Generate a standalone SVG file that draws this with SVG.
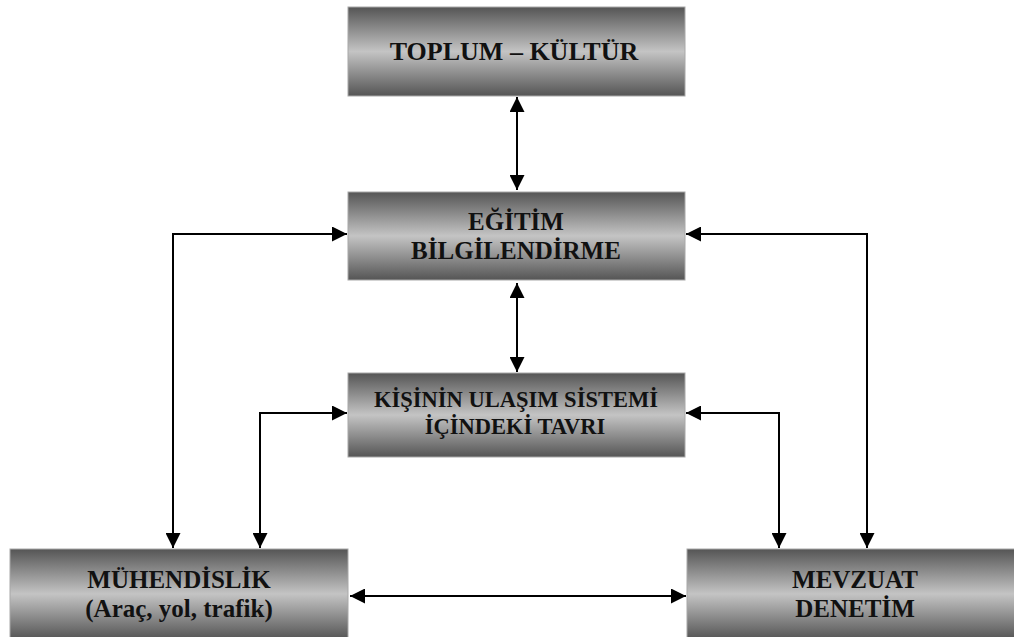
<svg xmlns="http://www.w3.org/2000/svg" width="1014" height="637" viewBox="0 0 1014 637">
<style>
.box{fill:url(#g);stroke:#a8a8a8;stroke-width:1}
.t{font-family:"Liberation Serif","Times New Roman",serif;font-weight:bold;font-size:25px;fill:#111;text-anchor:middle}
.big{font-size:26px}
.sm{font-size:22.5px}
.c{fill:none;stroke:#000;stroke-width:2;marker-start:url(#a);marker-end:url(#a)}
</style>
<defs>
<linearGradient id="g" x1="0" y1="0" x2="0" y2="1">
<stop offset="0" stop-color="#555"/>
<stop offset="0.5" stop-color="#c4c4c4"/>
<stop offset="1" stop-color="#555"/>
</linearGradient>
<marker id="a" viewBox="0 0 15 15" refX="15" refY="7.5" markerWidth="15" markerHeight="15" markerUnits="userSpaceOnUse" orient="auto-start-reverse">
<path d="M0,0 L15,7.5 L0,15 Z" fill="#000"/>
</marker>
</defs>
<g id="connectors">
<path class="c" d="M517,97 V190"/>
<path class="c" d="M517,283 V372"/>
<path class="c" d="M347,234 H173 V548"/>
<path class="c" d="M686,234 H867 V548"/>
<path class="c" d="M347,413 H260 V548"/>
<path class="c" d="M686,413 H779 V548"/>
<path class="c" d="M350,596 H686"/>
</g>
<g id="toplum">
<rect class="box" x="348" y="7" width="337" height="89"/>
<text class="t big" x="514" y="60">TOPLUM – KÜLTÜR</text>
</g>
<g id="egitim">
<rect class="box" x="348" y="192" width="337" height="88"/>
<text class="t" x="516" y="230">EĞİTİM</text>
<text class="t" x="516" y="259">BİLGİLENDİRME</text>
</g>
<g id="kisinin">
<rect class="box" x="348" y="373" width="337" height="84"/>
<text class="t sm" x="516" y="407">KİŞİNİN ULAŞIM SİSTEMİ</text>
<text class="t sm" x="515" y="434">İÇİNDEKİ TAVRI</text>
</g>
<g id="muhendislik">
<rect class="box" x="10" y="549" width="338" height="90"/>
<text class="t" x="179" y="588">MÜHENDİSLİK</text>
<text class="t" x="179" y="617">(Araç, yol, trafik)</text>
</g>
<g id="mevzuat">
<rect class="box" x="687" y="549" width="330" height="90"/>
<text class="t" x="855" y="588">MEVZUAT</text>
<text class="t" x="855" y="617">DENETİM</text>
</g>
</svg>
